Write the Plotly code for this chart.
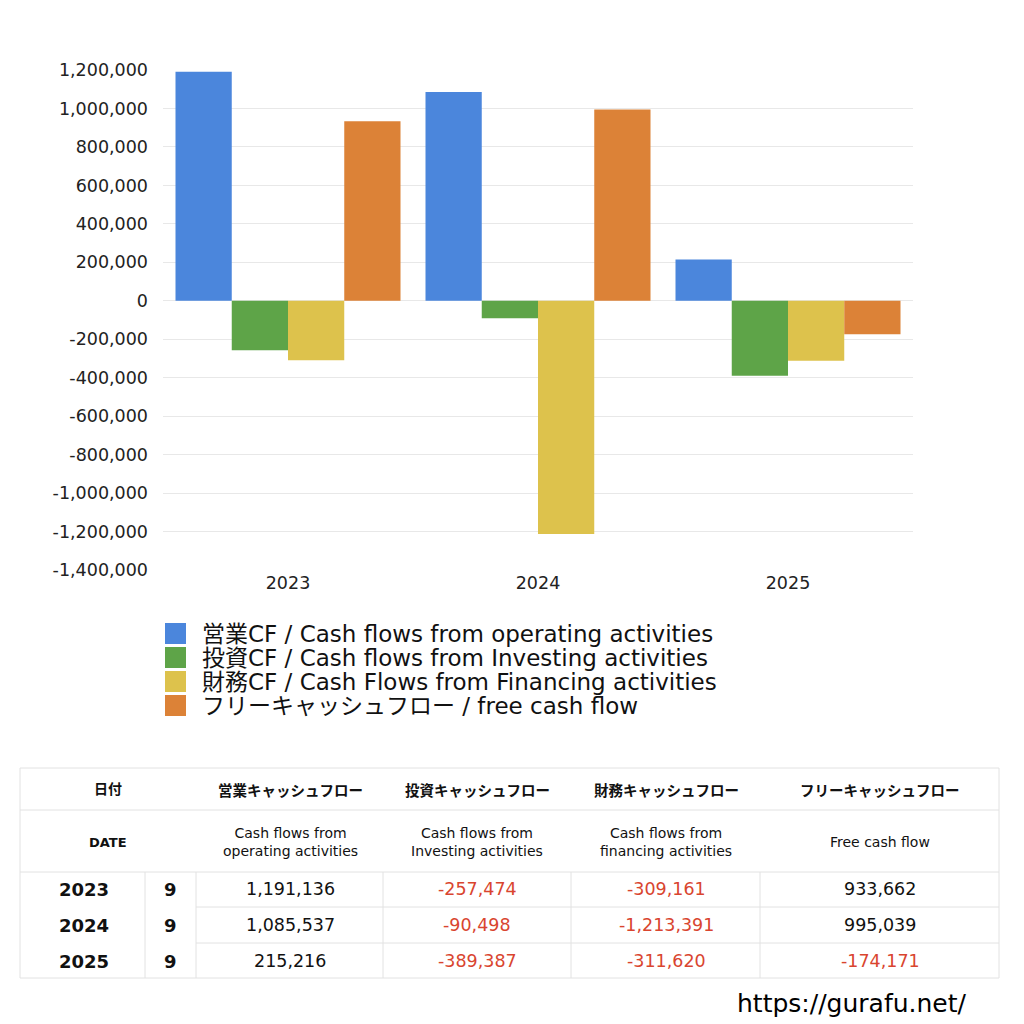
import plotly.graph_objects as go

years = ["2023", "2024", "2025"]
months = [9, 9, 9]
operating = [1191136, 1085537, 215216]
investing = [-257474, -90498, -389387]
financing = [-309161, -1213391, -311620]
free_cf = [933662, 995039, -174171]

y_ticks = [1200000, 1000000, 800000, 600000, 400000, 200000, 0, -200000, -400000,
           -600000, -800000, -1000000, -1200000, -1400000]

legend_names = [
    "営業CF / Cash flows from operating activities",
    "投資CF / Cash flows from Investing activities",
    "財務CF / Cash Flows from Financing activities",
    "フリーキャッシュフロー / free cash flow",
]
head_jp = ["営業キャッシュフロー", "投資キャッシュフロー", "財務キャッシュフロー", "フリーキャッシュフロー"]
head_en = ["Cash flows from<br>operating activities", "Cash flows from<br>Investing activities",
           "Cash flows from<br>financing activities", "Free cash flow"]
colors = ["#4b86dc", "#5ea448", "#ddc24c", "#dc8237"]

FONT = "DejaVu Sans, Noto Sans CJK JP"
W = H = 1024
OFF = 8  # page body margin


def px(x):
    return (x - OFF) / W


def py(y):
    return 1 - (y - OFF) / H


fig = go.Figure()
series = [operating, investing, financing, free_cf]
for name, vals, col in zip(legend_names, series, colors):
    fig.add_trace(go.Bar(x=years, y=vals, name=name, marker_color=col, marker_line_width=0))

shapes = []
annotations = []

# legend drawn by hand (bigger swatches)
for i, (name, col) in enumerate(zip(legend_names, colors)):
    yc = 634 + i * 24
    shapes.append(dict(type="rect", xref="paper", yref="paper", x0=px(165), x1=px(186),
                       y0=py(yc - 11), y1=py(yc + 10), fillcolor=col, line_width=0))
    annotations.append(dict(text=name, xref="paper", yref="paper", x=px(200), y=py(yc),
                            xanchor="left", yanchor="middle", showarrow=False,
                            font=dict(family=FONT, size=23, color="#111")))

# table
grid = "#e2e2e2"
left, right, top, bottom = 20, 999, 768, 978
shapes.append(dict(type="rect", xref="paper", yref="paper", x0=px(left), x1=px(right),
                   y0=py(top), y1=py(bottom), line=dict(color=grid, width=1)))
for yy in [810, 872]:
    shapes.append(dict(type="line", xref="paper", yref="paper", x0=px(left), x1=px(right),
                       y0=py(yy), y1=py(yy), line=dict(color=grid, width=1)))
for yy in [907, 943]:
    shapes.append(dict(type="line", xref="paper", yref="paper", x0=px(196), x1=px(right),
                       y0=py(yy), y1=py(yy), line=dict(color=grid, width=1)))
for xx in [145, 196, 383, 571, 760]:
    shapes.append(dict(type="line", xref="paper", yref="paper", x0=px(xx), x1=px(xx),
                       y0=py(872), y1=py(bottom), line=dict(color=grid, width=1)))

col_x = [290, 477, 666, 880]


def txt(s, x, y, size, bold=False, color="#111", family=FONT):
    if bold:
        s = "<b>" + s + "</b>"
    annotations.append(dict(text=s, xref="paper", yref="paper", x=px(x), y=py(y),
                            xanchor="center", yanchor="middle", showarrow=False,
                            font=dict(family=family, size=size, color=color)))


txt("日付", 108, 789, 14, True)
txt("DATE", 108, 842, 13, True)
for cx, jp, en in zip(col_x, head_jp, head_en):
    txt(jp, cx, 789, 14.5, True, family="Noto Sans CJK JP")
    txt(en, cx, 842, 14, False, "#111")

for r, yr in enumerate(years):
    yc = 889 + r * 36
    txt(yr, 84, yc, 18, True)
    txt(str(months[r]), 170, yc, 18, True)
    for cx, vals in zip(col_x, series):
        v = vals[r]
        txt(f"{v:,}", cx, yc, 17.5, False, "#d9452f" if v < 0 else "#111")

annotations.append(dict(text="https://gurafu.net/", xref="paper", yref="paper", x=px(969), y=py(1003),
                        xanchor="right", yanchor="middle", showarrow=False,
                        font=dict(family=FONT, size=25, color="#000")))

fig.update_layout(
    width=W, height=H,
    margin=dict(l=0, r=0, t=0, b=0, autoexpand=False),
    paper_bgcolor="white", plot_bgcolor="white",
    barmode="group", bargap=0.1, bargroupgap=0,
    showlegend=False,
    font=dict(family=FONT, size=17.5, color="#222"),
    xaxis=dict(domain=[px(163), px(913)], showgrid=False, ticks="", showline=False,
               tickfont=dict(size=17.5), automargin=False),
    yaxis=dict(domain=[py(570), py(70)], range=[-1400000, 1200000],
               tickvals=y_ticks, ticktext=[f"{v:,}" for v in y_ticks],
               showgrid=True, gridcolor="#e8e8e8", gridwidth=1,
               zeroline=True, zerolinecolor="#e8e8e8", zerolinewidth=1,
               ticks="", tickfont=dict(size=17.5), ticklabelstandoff=14, automargin=False),
    shapes=shapes,
    annotations=annotations,
)

fig.write_html("out.html")
